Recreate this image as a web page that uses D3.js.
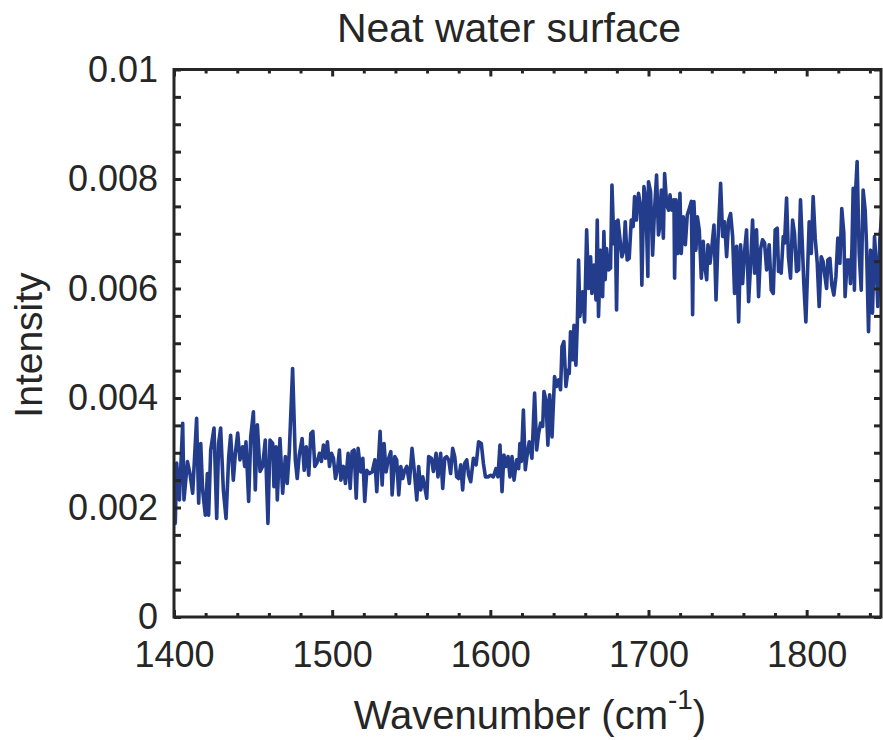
<!DOCTYPE html>
<meta charset="utf-8">
<title>Neat water surface</title>
<script src="https://d3js.org/d3.v7.min.js"></script>
<style>
  body { margin: 0; background: #fff; }
  text { font-family: "Liberation Sans", Arial, Helvetica, sans-serif; fill: #262626; }
</style>
<body>
<script>

// spectrum (wavenumber in cm^-1, intensity)
const wavenumber = [
  1400.0, 1400.8, 1401.7, 1403.4, 1405.5, 1406.3, 1408.5, 1410.1, 1411.8, 1412.7,
  1414.3, 1415.6, 1416.9, 1418.1, 1419.8, 1421.1, 1421.9, 1423.2, 1425.3, 1427.0,
  1428.2, 1429.5, 1431.2, 1432.9, 1434.6, 1435.8, 1437.5, 1438.8, 1440.3, 1441.7,
  1443.4, 1444.7, 1445.5, 1447.2, 1448.5, 1450.2, 1451.4, 1452.7, 1454.4, 1456.0,
  1457.7, 1459.4, 1460.7, 1462.4, 1463.2, 1464.5, 1465.3, 1467.0, 1468.7, 1470.4,
  1471.6, 1472.9, 1475.0, 1476.7, 1477.9, 1479.2,
  1481.0, 1482.3, 1483.6, 1485.2, 1486.5, 1487.8, 1489.0, 1490.3, 1492.0, 1493.2,
  1494.5, 1495.8, 1497.0, 1498.3, 1499.6, 1500.8, 1502.1, 1503.4, 1504.6, 1505.5,
  1507.1, 1508.4, 1510.1, 1511.4, 1512.6, 1513.9, 1515.2, 1516.4, 1518.1, 1519.4,
  1520.6, 1521.9, 1523.6, 1525.3, 1527.0, 1528.2, 1530.3, 1531.6, 1532.8, 1534.1,
  1535.4, 1537.1, 1537.9, 1539.6, 1540.8, 1542.1, 1543.4, 1544.6, 1545.9, 1547.2,
  1548.8, 1550.5, 1551.8, 1553.5, 1554.7,
  1556.0, 1557.3, 1558.5, 1559.8, 1561.0, 1562.7, 1564.0, 1565.7, 1566.9, 1568.6,
  1569.9, 1571.2, 1572.4, 1573.7, 1574.9, 1576.2, 1577.5, 1578.7, 1580.0, 1581.3,
  1582.5, 1583.8, 1585.1, 1586.3, 1587.6, 1589.3, 1591.0, 1592.6, 1594.3, 1595.6,
  1596.9, 1598.5, 1600.2, 1601.9, 1603.6, 1604.8, 1606.1, 1607.4, 1608.6, 1609.9,
  1611.2, 1612.4, 1613.7, 1615.0, 1616.6, 1617.9, 1618.7, 1619.6, 1620.9, 1622.1,
  1623.4, 1624.6, 1626.3, 1628.0, 1629.3, 1630.5,
  1631.8, 1633.1, 1633.9, 1635.2, 1636.4, 1637.5, 1639.0, 1640.6, 1641.9, 1643.2,
  1644.4, 1645.3, 1646.5, 1647.8, 1649.1, 1649.9, 1650.7, 1652.0, 1652.9, 1654.1,
  1655.0, 1655.8, 1656.6, 1658.3, 1659.6, 1660.9, 1662.1, 1663.4, 1664.2, 1665.5,
  1666.8, 1667.6, 1668.4, 1669.7, 1671.0, 1671.8, 1672.6, 1673.5, 1674.8, 1676.0,
  1676.9, 1678.1, 1679.0, 1679.8, 1680.7, 1681.9, 1683.2, 1684.4, 1685.3, 1686.5,
  1687.8, 1689.1, 1690.3, 1691.2, 1692.4, 1693.7, 1695.0, 1695.8, 1697.1, 1698.3,
  1699.6, 1700.0, 1701.3, 1702.6, 1703.8, 1705.1, 1706.3,
  1706.8, 1708.1, 1709.4, 1710.2, 1711.5, 1712.7, 1713.6, 1714.9, 1716.1, 1716.5,
  1717.4, 1718.6, 1719.9, 1720.7, 1722.0, 1723.3, 1724.5, 1725.8, 1727.1, 1727.9,
  1728.7, 1730.0, 1730.9, 1732.1, 1733.4, 1734.6, 1735.5, 1736.8, 1737.6, 1738.9,
  1740.1, 1741.4, 1742.7, 1743.9, 1745.6, 1746.9, 1748.1, 1749.4, 1750.7, 1751.9,
  1753.2, 1754.4, 1755.7, 1757.0, 1758.2, 1759.5, 1760.8, 1762.0, 1763.3, 1764.6,
  1765.8, 1767.1, 1768.3, 1769.6, 1770.9, 1772.1, 1773.4, 1774.7, 1776.3, 1777.6,
  1778.9, 1780.1, 1781.4, 1782.2,
  1783.1, 1783.9, 1785.2, 1786.0, 1787.3, 1788.5, 1789.8, 1791.1, 1792.3, 1793.6,
  1794.9, 1796.1, 1797.4, 1798.2, 1799.5, 1800.8, 1801.6, 1802.9, 1804.1, 1805.4,
  1806.7, 1807.9, 1809.2, 1810.4, 1811.3, 1812.6, 1813.4, 1814.7, 1815.9, 1817.2,
  1818.5, 1819.7, 1821.0, 1822.2, 1823.5, 1824.3, 1825.6, 1826.9, 1827.7, 1828.6,
  1829.4, 1830.2, 1831.1, 1831.9, 1833.2, 1834.5, 1835.7, 1837.0, 1837.8, 1839.1,
  1840.4, 1841.6, 1842.9, 1843.7, 1845.0, 1846.3, 1847.5
];

const intensity = [
  0.00220, 0.00171, 0.00281, 0.00214, 0.00354, 0.00214, 0.00284, 0.00262, 0.00226, 0.00275,
  0.00363, 0.00208, 0.00317, 0.00232, 0.00186, 0.00262, 0.00186, 0.00305, 0.00345, 0.00180,
  0.00317, 0.00345, 0.00232, 0.00180, 0.00293, 0.00332, 0.00250, 0.00299, 0.00336, 0.00287,
  0.00311, 0.00275, 0.00320, 0.00211, 0.00329, 0.00375, 0.00232, 0.00351, 0.00266, 0.00275,
  0.00323, 0.00171, 0.00323, 0.00317, 0.00238, 0.00311, 0.00214, 0.00326, 0.00226, 0.00293,
  0.00244, 0.00302, 0.00454, 0.00287, 0.00253, 0.00296,
  0.00326, 0.00268, 0.00311, 0.00259, 0.00335, 0.00339, 0.00275, 0.00281, 0.00299, 0.00284,
  0.00314, 0.00290, 0.00320, 0.00275, 0.00299, 0.00290, 0.00253, 0.00271, 0.00305, 0.00250,
  0.00275, 0.00244, 0.00299, 0.00235, 0.00302, 0.00305, 0.00217, 0.00308, 0.00265, 0.00290,
  0.00211, 0.00268, 0.00262, 0.00265, 0.00287, 0.00229, 0.00339, 0.00241, 0.00317, 0.00265,
  0.00287, 0.00302, 0.00223, 0.00293, 0.00287, 0.00223, 0.00275, 0.00253, 0.00268, 0.00275,
  0.00244, 0.00308, 0.00271, 0.00214, 0.00275,
  0.00232, 0.00256, 0.00238, 0.00217, 0.00293, 0.00290, 0.00266, 0.00299, 0.00256, 0.00299,
  0.00235, 0.00290, 0.00293, 0.00287, 0.00262, 0.00308, 0.00293, 0.00256, 0.00253, 0.00278,
  0.00232, 0.00281, 0.00287, 0.00259, 0.00247, 0.00290, 0.00278, 0.00320, 0.00317, 0.00281,
  0.00256, 0.00256, 0.00259, 0.00256, 0.00271, 0.00256, 0.00314, 0.00229, 0.00296, 0.00275,
  0.00293, 0.00256, 0.00293, 0.00250, 0.00287, 0.00271, 0.00317, 0.00284, 0.00378, 0.00269,
  0.00299, 0.00320, 0.00290, 0.00409, 0.00305, 0.00335,
  0.00354, 0.00348, 0.00412, 0.00396, 0.00314, 0.00406, 0.00329, 0.00439, 0.00421, 0.00433,
  0.00415, 0.00494, 0.00503, 0.00421, 0.00451, 0.00445, 0.00521, 0.00470, 0.00533, 0.00460,
  0.00536, 0.00652, 0.00549, 0.00594, 0.00539, 0.00707, 0.00600, 0.00658, 0.00591, 0.00643,
  0.00579, 0.00725, 0.00549, 0.00670, 0.00585, 0.00704, 0.00616, 0.00673, 0.00634, 0.00637,
  0.00789, 0.00682, 0.00722, 0.00561, 0.00725, 0.00692, 0.00658, 0.00670, 0.00722, 0.00652,
  0.00655, 0.00725, 0.00713, 0.00768, 0.00725, 0.00774, 0.00749, 0.00606, 0.00786, 0.00762,
  0.00622, 0.00795, 0.00777, 0.00661, 0.00743, 0.00807, 0.00698,
  0.00707, 0.00780, 0.00692, 0.00810, 0.00753, 0.00743, 0.00771, 0.00743, 0.00762, 0.00619,
  0.00762, 0.00664, 0.00774, 0.00664, 0.00731, 0.00680, 0.00734, 0.00746, 0.00759, 0.00552,
  0.00759, 0.00670, 0.00731, 0.00707, 0.00619, 0.00686, 0.00643, 0.00616, 0.00680, 0.00646,
  0.00677, 0.00716, 0.00579, 0.00686, 0.00792, 0.00695, 0.00722, 0.00658, 0.00725, 0.00737,
  0.00695, 0.00591, 0.00677, 0.00539, 0.00680, 0.00609, 0.00670, 0.00707, 0.00576, 0.00646,
  0.00725, 0.00628, 0.00707, 0.00585, 0.00673, 0.00689, 0.00683, 0.00634, 0.00680, 0.00597,
  0.00591, 0.00707, 0.00710, 0.00631,
  0.00634, 0.00628, 0.00695, 0.00683, 0.00765, 0.00658, 0.00619, 0.00725, 0.00701, 0.00631,
  0.00634, 0.00762, 0.00670, 0.00609, 0.00539, 0.00652, 0.00722, 0.00664, 0.00768, 0.00692,
  0.00646, 0.00567, 0.00658, 0.00649, 0.00628, 0.00600, 0.00652, 0.00655, 0.00606, 0.00588,
  0.00622, 0.00692, 0.00646, 0.00746, 0.00701, 0.00585, 0.00652, 0.00652, 0.00609, 0.00670,
  0.00783, 0.00597, 0.00786, 0.00832, 0.00664, 0.00597, 0.00780, 0.00743, 0.00683, 0.00521,
  0.00670, 0.00555, 0.00695, 0.00658, 0.00567, 0.00692, 0.00737
];

const xTickValues = [1400, 1500, 1600, 1700, 1800];
const xTickLabels = ["1400", "1500", "1600", "1700", "1800"];
const yTickValues = [0, 0.002, 0.004, 0.006, 0.008, 0.01];
const yTickLabels = ["0", "0.002", "0.004", "0.006", "0.008", "0.01"];

const width = 883;
const height = 740;
const plot = { left: 174, right: 881, top: 69.5, bottom: 617 };
const axisColor = "#262626";
const lineColor = "#233d8c";

const x = d3.scaleLinear().domain([1400, 1847]).range([plot.left, plot.right]);
const y = d3.scaleLinear().domain([0, 0.01]).range([plot.bottom, plot.top]);

const xMinor = d3.range(1420, 1847, 20).filter(v => v % 100 !== 0);
const yMinor = d3.range(0.0005, 0.01, 0.0005).filter(v => Math.abs(v / 0.002 - Math.round(v / 0.002)) > 1e-6);

const svg = d3.select("body").append("svg")
  .attr("width", width)
  .attr("height", height);

svg.append("defs").append("clipPath").attr("id", "clip")
  .append("rect")
  .attr("x", plot.left).attr("y", plot.top)
  .attr("width", plot.right - plot.left)
  .attr("height", plot.bottom - plot.top);

// data line
const data = wavenumber.map((w, i) => [w, intensity[i]]);
svg.append("path")
  .datum(data)
  .attr("clip-path", "url(#clip)")
  .attr("fill", "none")
  .attr("stroke", lineColor)
  .attr("stroke-width", 3.6)
  .attr("stroke-linejoin", "round")
  .attr("d", d3.line().x(d => x(d[0])).y(d => y(d[1])));

function styleAxis(g) {
  g.select(".domain").remove();
  g.selectAll(".tick line").attr("stroke", axisColor).attr("stroke-width", 3);
  g.selectAll("text").attr("fill", axisColor).style("font-size", "36px")
    .style("font-family", "'Liberation Sans', Arial, sans-serif");
}

// bottom axis
svg.append("g").attr("transform", `translate(0,${plot.bottom})`)
  .call(d3.axisBottom(x).tickValues(xTickValues).tickSizeInner(-7).tickSizeOuter(0).tickPadding(24)
    .tickFormat((d, i) => xTickLabels[i]))
  .call(styleAxis);
svg.append("g").attr("transform", `translate(0,${plot.bottom})`)
  .call(d3.axisBottom(x).tickValues(xMinor).tickSizeInner(-4).tickSizeOuter(0).tickFormat(""))
  .call(styleAxis);

// top axis
svg.append("g").attr("transform", `translate(0,${plot.top})`)
  .call(d3.axisTop(x).tickValues(xTickValues).tickSizeInner(-7).tickSizeOuter(0).tickFormat(""))
  .call(styleAxis);
svg.append("g").attr("transform", `translate(0,${plot.top})`)
  .call(d3.axisTop(x).tickValues(xMinor).tickSizeInner(-4).tickSizeOuter(0).tickFormat(""))
  .call(styleAxis);

// left axis
svg.append("g").attr("transform", `translate(${plot.left},0)`)
  .call(d3.axisLeft(y).tickValues(yTickValues).tickSizeInner(-7).tickSizeOuter(0).tickPadding(16)
    .tickFormat((d, i) => yTickLabels[i]))
  .call(styleAxis);
svg.append("g").attr("transform", `translate(${plot.left},0)`)
  .call(d3.axisLeft(y).tickValues(yMinor).tickSizeInner(-7).tickSizeOuter(0).tickFormat(""))
  .call(styleAxis);

// right axis
svg.append("g").attr("transform", `translate(${plot.right},0)`)
  .call(d3.axisRight(y).tickValues(yTickValues).tickSizeInner(-7).tickSizeOuter(0).tickFormat(""))
  .call(styleAxis);
svg.append("g").attr("transform", `translate(${plot.right},0)`)
  .call(d3.axisRight(y).tickValues(yMinor).tickSizeInner(-7).tickSizeOuter(0).tickFormat(""))
  .call(styleAxis);

// box
svg.append("rect")
  .attr("x", plot.left).attr("y", plot.top)
  .attr("width", plot.right - plot.left)
  .attr("height", plot.bottom - plot.top)
  .attr("fill", "none")
  .attr("stroke", axisColor)
  .attr("stroke-width", 3);

// title
svg.append("text")
  .attr("x", 509).attr("y", 42)
  .attr("text-anchor", "middle")
  .style("font-size", "41px")
  .text("Neat water surface");

// x label with superscript
const xl = svg.append("text")
  .attr("x", 530).attr("y", 729)
  .attr("text-anchor", "middle")
  .style("font-size", "40px");
xl.append("tspan").text("Wavenumber (cm");
xl.append("tspan").attr("dy", -20).style("font-size", "28px").text("-1");
xl.append("tspan").attr("dy", 20).text(")");

// y label
svg.append("text")
  .attr("transform", "translate(42,345) rotate(-90)")
  .attr("text-anchor", "middle")
  .style("font-size", "39px")
  .text("Intensity");

</script>
</body>
